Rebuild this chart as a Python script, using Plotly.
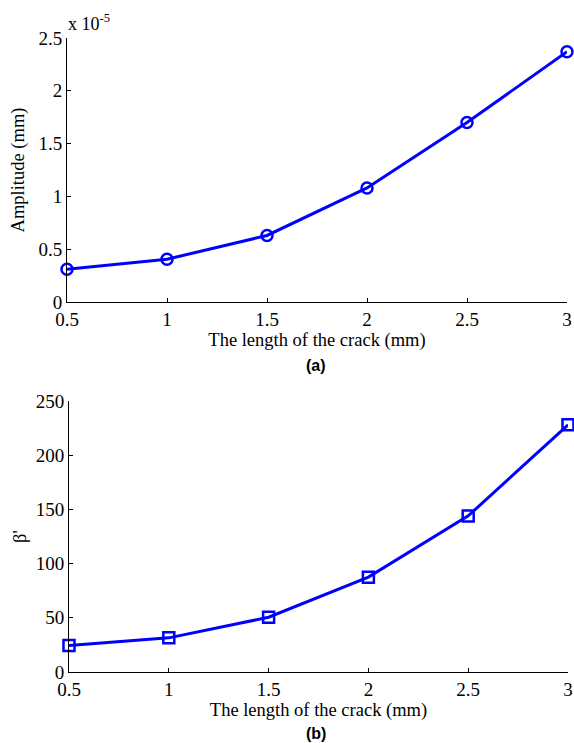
import plotly.graph_objects as go

crack_length = [0.5, 1.0, 1.5, 2.0, 2.5, 3.0]
amplitude = [0.311e-5, 0.405e-5, 0.63e-5, 1.08e-5, 1.70e-5, 2.37e-5]
beta_prime = [24.5, 31.5, 50.5, 87.5, 144.0, 228.0]

x_ticks = [0.5, 1, 1.5, 2, 2.5, 3]
x_ticktext = ["0.5", "1", "1.5", "2", "2.5", "3"]
amp_ticks = [0, 0.5e-5, 1e-5, 1.5e-5, 2e-5, 2.5e-5]
amp_ticktext = ["0", "0.5", "1", "1.5", "2", "2.5"]
beta_ticks = [0, 50, 100, 150, 200, 250]

W, H = 574, 743
ML, MR, MT, MB = 67, 574 - 568, 38, 743 - 672
PW, PH = W - ML - MR, H - MT - MB
BLUE = "#0000ff"
SERIF = "Liberation Serif, Times New Roman, serif"
SANS = "Liberation Sans, Arial, sans-serif"


def px(x):
    return (x - ML) / PW


def py(y):
    return (H - MB - y) / PH


fig = go.Figure()
fig.add_trace(go.Scatter(x=crack_length, y=amplitude, mode="lines+markers",
                         line=dict(color=BLUE, width=3),
                         marker=dict(symbol="circle-open", size=11, color=BLUE, line=dict(width=2.5, color=BLUE)),
                         xaxis="x", yaxis="y", showlegend=False, cliponaxis=False))
fig.add_trace(go.Scatter(x=crack_length, y=beta_prime, mode="lines+markers",
                         line=dict(color=BLUE, width=3),
                         marker=dict(symbol="square-open", size=11, color=BLUE, line=dict(width=2.5, color=BLUE)),
                         xaxis="x2", yaxis="y2", showlegend=False, cliponaxis=False))

axis_common = dict(showline=True, linecolor="black", linewidth=1, ticks="inside", ticklen=4,
                   tickcolor="black", showgrid=False, zeroline=False, automargin=False,
                   tickfont=dict(family=SERIF, size=19, color="black"))
title_font = dict(family=SERIF, size=18.5, color="black")

fig.update_layout(
    width=W, height=H, margin=dict(l=ML, r=MR, t=MT, b=MB),
    paper_bgcolor="white", plot_bgcolor="white",
    xaxis=dict(domain=[px(67), px(567)], range=[0.5, 3], tickvals=x_ticks, ticktext=x_ticktext,
               anchor="y",
               title=dict(text="The length of the crack (mm)", font=title_font, standoff=0),
               **axis_common),
    yaxis=dict(domain=[py(302), py(38)], range=[0, 2.5e-5], tickvals=amp_ticks, ticktext=amp_ticktext,
               anchor="x",
               title=dict(text="Amplitude (mm)", font=title_font, standoff=8),
               **axis_common),
    xaxis2=dict(domain=[px(69), px(568)], range=[0.5, 3], tickvals=x_ticks, ticktext=x_ticktext,
                anchor="y2",
                title=dict(text="The length of the crack (mm)", font=title_font, standoff=0),
                **axis_common),
    yaxis2=dict(domain=[py(672), py(401)], range=[0, 250], tickvals=beta_ticks,
                anchor="x2",
                title=dict(text="β'", font=title_font, standoff=4),
                **axis_common),
    annotations=[
        dict(text="x 10<sup>-5</sup>", x=px(66), y=py(36), xref="paper", yref="paper",
             xanchor="left", yanchor="bottom", showarrow=False,
             font=dict(family=SERIF, size=18, color="black")),
        dict(text="<b>(a)</b>", x=px(316), y=py(365), xref="paper", yref="paper",
             xanchor="center", yanchor="middle", showarrow=False,
             font=dict(family=SANS, size=16, color="black")),
        dict(text="<b>(b)</b>", x=px(316), y=py(733), xref="paper", yref="paper",
             xanchor="center", yanchor="middle", showarrow=False,
             font=dict(family=SANS, size=16, color="black")),
    ],
)

# remove the browser's default 8px page margin so the figure fills the window exactly
fig.write_html("out.html", config={"displayModeBar": False},
               post_script="document.body.style.margin='0px';document.body.style.overflow='hidden';")
